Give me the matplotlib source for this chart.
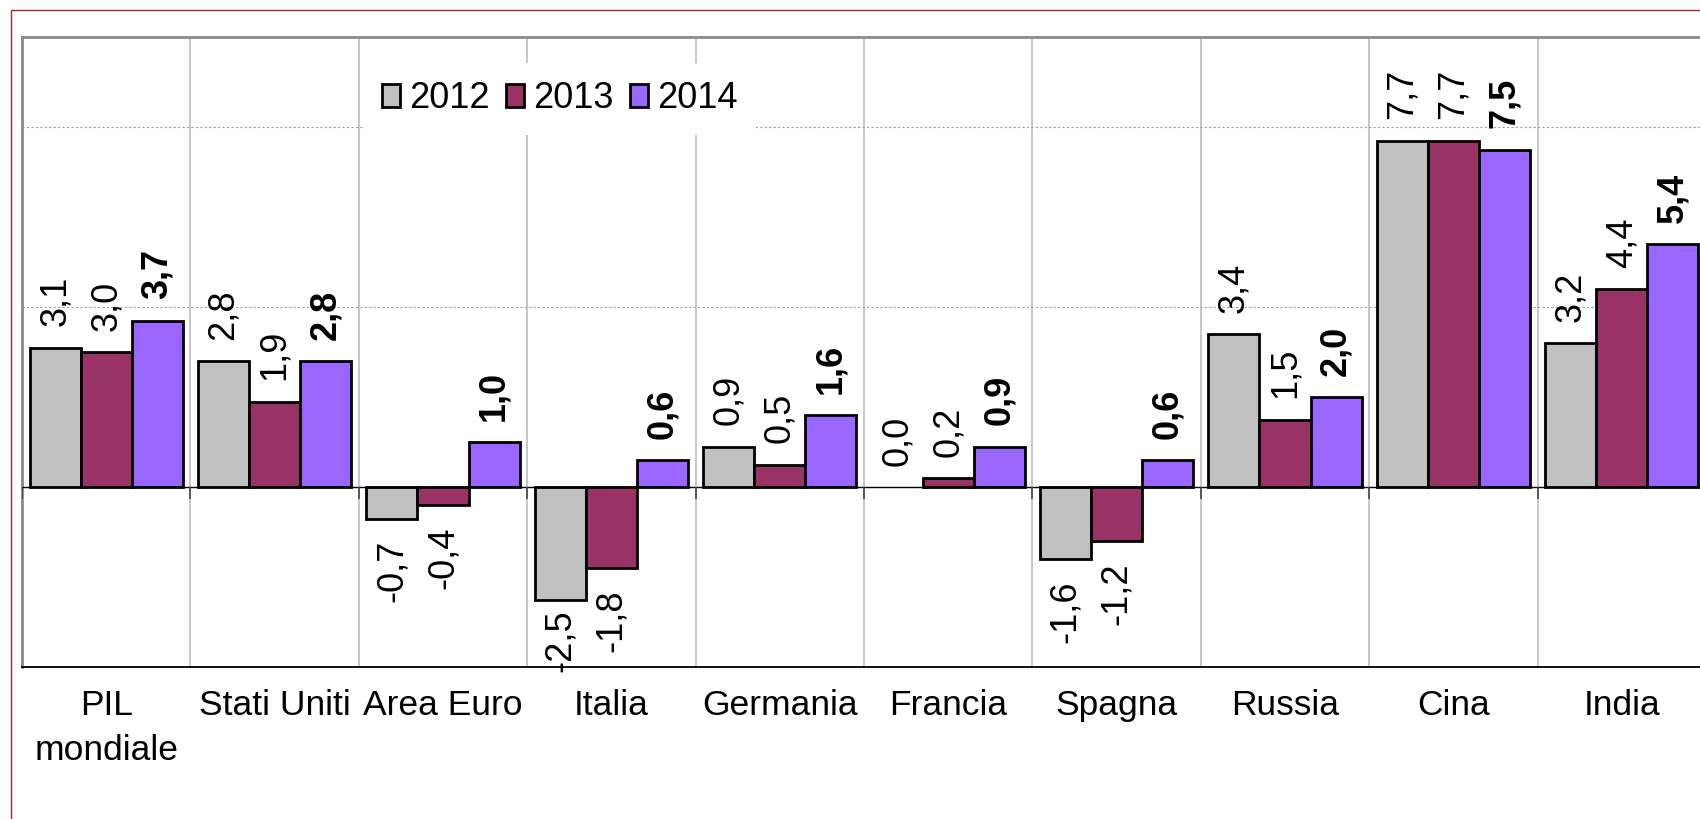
import numpy as np
import matplotlib.pyplot as plt
from matplotlib.patches import Patch, Rectangle

plt.rcParams['font.family'] = 'Liberation Sans'

categories = ['PIL\nmondiale', 'Stati Uniti', 'Area Euro', 'Italia', 'Germania',
              'Francia', 'Spagna', 'Russia', 'Cina', 'India']
years = ['2012', '2013', '2014']
v2012 = [3.1, 2.8, -0.7, -2.5, 0.9, 0.0, -1.6, 3.4, 7.7, 3.2]
v2013 = [3.0, 1.9, -0.4, -1.8, 0.5, 0.2, -1.2, 1.5, 7.7, 4.4]
v2014 = [3.7, 2.8, 1.0, 0.6, 1.6, 0.9, 0.6, 2.0, 7.5, 5.4]
series = [v2012, v2013, v2014]
colors = ['#c0c0c0', '#993366', '#9966ff']

W, H = 1700, 819
fig = plt.figure(figsize=(W / 100, H / 100), dpi=100)
ax = fig.add_axes([22 / W, 1 - 667 / H, 1684 / W, 630 / H])

x = np.arange(len(categories))
w = 1 / 3.3
ymin, ymax = -4, 10

for i, vals in enumerate(series):
    lws = [2 if v != 0 else 0 for v in vals]
    ax.bar(x + (i - 1) * w, vals, w, color=colors[i], edgecolor='black',
           linewidth=lws, zorder=3)

# value labels
gap = 0.47
label_len = 1.4
for i, vals in enumerate(series):
    weight = 'bold' if i == 2 else 'normal'
    for j, v in enumerate(vals):
        txt = f'{v:.1f}'.replace('.', ',')
        xp = x[j] + (i - 1) * w
        if v >= 0:
            ax.text(xp, v + gap, txt, rotation=90, ha='center', va='bottom',
                    fontsize=26, fontweight=weight, zorder=4)
        else:
            yt = max(v - gap, ymin - 0.11 + label_len)
            ax.text(xp, yt, txt, rotation=90, ha='center', va='top',
                    fontsize=26, fontweight=weight, zorder=4)

ax.set_xlim(-0.5, len(categories) - 0.5)
ax.set_ylim(ymin, ymax)

# horizontal dotted grid
ax.set_yticks([4, 8])
ax.yaxis.grid(True, linestyle=(0, (2, 2)), color='#a0a0a0', linewidth=0.8)
ax.tick_params(axis='y', left=False, labelleft=False)

# category separators
bounds = np.arange(len(categories) + 1) - 0.5
ax.set_xticks(bounds, minor=True)
ax.xaxis.grid(True, which='minor', color='#bdbdbd', linewidth=1.2)
ax.tick_params(axis='x', which='both', length=0, labelsize=25.5, pad=16)
ax.set_xticks(x)
ax.set_xticklabels(categories, linespacing=1.45)

ax.axhline(0, color='black', linewidth=1, zorder=3)
ax.vlines(bounds, -0.27, 0, color='#444444', linewidth=1.2, zorder=3)

ax.spines['top'].set_color('#8a8a8a')
ax.spines['top'].set_linewidth(2)
ax.spines['left'].set_color('#8a8a8a')
ax.spines['left'].set_linewidth(2)
ax.spines['bottom'].set_color('black')
ax.spines['bottom'].set_linewidth(1.3)
ax.spines['right'].set_visible(False)

handles = [Patch(facecolor=c, edgecolor='black', linewidth=2) for c in colors]
leg = ax.legend(handles, years, loc='center', bbox_to_anchor=(0.3195, 0.9016),
                ncol=3, fontsize=26, frameon=True, facecolor='white',
                edgecolor='none', framealpha=1, fancybox=False,
                handlelength=0.5, handleheight=0.6, handletextpad=0.25,
                columnspacing=0.45, borderpad=0.5)
leg.set_zorder(5)

# outer frame
fig.add_artist(Rectangle((11 / W, -0.5), 2, 1.5 - 10 / H, transform=fig.transFigure,
                         fill=False, edgecolor='#a3272d', linewidth=1))

fig.savefig('out.png', dpi=100)
